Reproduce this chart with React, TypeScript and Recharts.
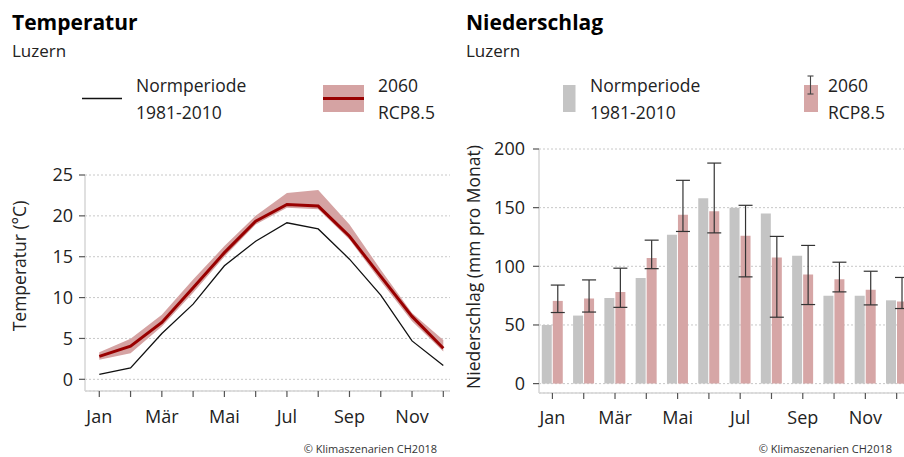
import React from "react";
import {
  ComposedChart,
  Line,
  Area,
  Bar,
  ErrorBar,
  XAxis,
  YAxis,
  CartesianGrid,
} from "recharts";

const months = [1, 2, 3, 4, 5, 6, 7, 8, 9, 10, 11, 12];
const tickLabels = ["Jan", "", "Mär", "", "Mai", "", "Jul", "", "Sep", "", "Nov", ""];

const tempNorm = [0.6, 1.4, 5.6, 9.2, 13.9, 16.9, 19.15, 18.4, 14.7, 10.3, 4.7, 1.7];
const tempFuture = [2.8, 4.05, 6.95, 11.2, 15.5, 19.35, 21.4, 21.2, 17.5, 12.6, 7.7, 3.8];
const tempLow = [2.4, 3.2, 6.45, 10.6, 15.0, 18.95, 21.0, 20.8, 17.1, 12.0, 7.1, 3.4];
const tempHigh = [3.3, 4.95, 7.9, 12.2, 16.3, 20.0, 22.8, 23.15, 18.95, 13.4, 8.1, 4.8];
const tempTicks = [0, 5, 10, 15, 20, 25];

const precipNorm = [50, 58, 73, 90, 127, 158, 150, 145, 109, 75, 75, 71];
const precipFuture = [70.5, 72.5, 78, 107, 144, 147, 126, 107.5, 93, 89, 80, 70];
const precipLow = [60.6, 61, 65, 98, 129.7, 128.5, 91, 56.6, 67.4, 78.2, 67.1, 64];
const precipHigh = [84, 88.4, 98.4, 122.3, 173.3, 188, 152, 125.5, 117.8, 103.5, 95.8, 90.5];
const precipTicks = [0, 50, 100, 150, 200];

const tempData = months.map((m, i) => ({
  m,
  norm: tempNorm[i],
  fut: tempFuture[i],
  band: [tempLow[i], tempHigh[i]],
}));

const precipData = months.map((m, i) => ({
  m,
  norm: precipNorm[i],
  fut: precipFuture[i],
  err: [precipFuture[i] - precipLow[i], precipHigh[i] - precipFuture[i]],
}));

const FONT = '"Open Sans", sans-serif';
const AXIS_GRAY = "#d6d6d6";
const TICK_COLOR = "#555";
const TEXT = "#222";
const RED_FILL = "#d5a3a3";
const DARK_RED = "#990000";
const BAR_GRAY = "#c4c4c4";
const BAR_RED = "#d6a6a6";

const fmt = (_v: number, i: number) => tickLabels[i] ?? "";

export default function App() {
  return (
    <div
      style={{
        position: "absolute",
        left: 0,
        top: 0,
        width: 904,
        height: 457,
        overflow: "hidden",
        background: "#fff",
        fontFamily: FONT,
      }}
    >
      <div style={{ position: "absolute", left: 0, top: 0 }}>
        <ComposedChart
          width={460}
          height={457}
          data={tempData}
          margin={{ top: 175, right: 10, bottom: 26, left: 0 }}
        >
          <CartesianGrid
            vertical={false}
            stroke="#c8c8c8"
            strokeDasharray="2 2"
          />
          <XAxis
            dataKey="m"
            type="number"
            domain={[0.543, 12.214]}
            ticks={months}
            interval={0}
            tickFormatter={fmt}
            height={40}
            axisLine={{ stroke: AXIS_GRAY, strokeWidth: 1.5 }}
            tickLine={{ stroke: TICK_COLOR, strokeWidth: 1.2 }}
            tickSize={6}
            tickMargin={13}
            tick={{ fill: TEXT, fontSize: 18 }}
          />
          <YAxis
            type="number"
            domain={[-1.43, 25]}
            ticks={tempTicks}
            interval={0}
            width={85}
            axisLine={{ stroke: AXIS_GRAY, strokeWidth: 1.5 }}
            tickLine={{ stroke: TICK_COLOR, strokeWidth: 1.2 }}
            tickSize={6}
            tickMargin={6}
            tick={{ fill: TEXT, fontSize: 18 }}
          />
          <Area
            dataKey="band"
            type="linear"
            fill={RED_FILL}
            fillOpacity={1}
            stroke="none"
            isAnimationActive={false}
            dot={false}
            activeDot={false}
          />
          <Line
            dataKey="norm"
            type="linear"
            stroke="#111"
            strokeWidth={1.3}
            dot={false}
            activeDot={false}
            isAnimationActive={false}
          />
          <Line
            dataKey="fut"
            type="linear"
            stroke={DARK_RED}
            strokeWidth={3}
            dot={false}
            activeDot={false}
            isAnimationActive={false}
          />
        </ComposedChart>
      </div>

      <div style={{ position: "absolute", left: 460, top: 0 }}>
        <ComposedChart
          width={460}
          height={457}
          data={precipData}
          barSize={10}
          barGap={1}
          margin={{ top: 149, right: 0, bottom: 24, left: 0 }}
        >
          <CartesianGrid
            vertical={false}
            stroke="#c8c8c8"
            strokeDasharray="2 2"
          />
          <XAxis
            dataKey="m"
            type="number"
            domain={[0.571, 12.746]}
            ticks={months}
            interval={0}
            tickFormatter={fmt}
            height={40}
            axisLine={{ stroke: AXIS_GRAY, strokeWidth: 1.5 }}
            tickLine={{ stroke: TICK_COLOR, strokeWidth: 1.2 }}
            tickSize={6}
            tickMargin={12}
            tick={{ fill: TEXT, fontSize: 18 }}
          />
          <YAxis
            type="number"
            domain={[-8, 200]}
            ticks={precipTicks}
            interval={0}
            width={79}
            axisLine={{ stroke: AXIS_GRAY, strokeWidth: 1.5 }}
            tickLine={{ stroke: TICK_COLOR, strokeWidth: 1.2 }}
            tickSize={6}
            tickMargin={8}
            tick={{ fill: TEXT, fontSize: 18 }}
          />
          <Bar dataKey="norm" fill={BAR_GRAY} isAnimationActive={false} />
          <Bar dataKey="fut" fill={BAR_RED} isAnimationActive={false}>
            <ErrorBar
              dataKey="err"
              width={7}
              stroke="#333"
              strokeWidth={1.2}
              direction="y"
            />
          </Bar>
        </ComposedChart>
      </div>

      <svg
        width={904}
        height={457}
        style={{ position: "absolute", left: 0, top: 0, pointerEvents: "none" }}
        fontFamily={FONT}
      >
        {/* Left titles */}
        <text x={12} y={30} fontSize={21} fontWeight={700} fill="#000">
          Temperatur
        </text>
        <text x={12} y={57} fontSize={17} fill={TEXT}>
          Luzern
        </text>
        {/* Left legend */}
        <line x1={82} y1={98.5} x2={122} y2={98.5} stroke="#111" strokeWidth={1.3} />
        <text x={136} y={92} fontSize={17.5} fill={TEXT}>Normperiode</text>
        <text x={136} y={119} fontSize={17.5} fill={TEXT}>1981-2010</text>
        <rect x={323} y={85} width={41} height={27} fill={RED_FILL} />
        <line x1={323} y1={98.5} x2={364} y2={98.5} stroke={DARK_RED} strokeWidth={3} />
        <text x={378} y={92} fontSize={17.5} fill={TEXT}>2060</text>
        <text x={378} y={119} fontSize={17.5} fill={TEXT}>RCP8.5</text>
        {/* Left axis title */}
        <text
          x={18.5}
          y={266}
          fontSize={17.5}
          fill={TEXT}
          textAnchor="middle"
          dominantBaseline="central"
          transform="rotate(-90 18.5 266)"
        >
          Temperatur (°C)
        </text>
        <text x={437} y={452.5} fontSize={11} fill="#333" textAnchor="end">
          © Klimaszenarien CH2018
        </text>

        {/* Right titles */}
        <text x={466} y={30} fontSize={21} fontWeight={700} fill="#000">
          Niederschlag
        </text>
        <text x={466} y={57} fontSize={17} fill={TEXT}>
          Luzern
        </text>
        {/* Right legend */}
        <rect x={563} y={85} width={12.5} height={27} fill={BAR_GRAY} />
        <text x={590} y={92} fontSize={17.5} fill={TEXT}>Normperiode</text>
        <text x={590} y={119} fontSize={17.5} fill={TEXT}>1981-2010</text>
        <rect x={804} y={85} width={14} height={27} fill={BAR_RED} />
        <line x1={810.5} y1={76} x2={810.5} y2={94} stroke="#444" strokeWidth={1.1} />
        <line x1={807.5} y1={76} x2={813.5} y2={76} stroke="#444" strokeWidth={1.1} />
        <line x1={807.5} y1={94} x2={813.5} y2={94} stroke="#444" strokeWidth={1.1} />
        <text x={828} y={92} fontSize={17.5} fill={TEXT}>2060</text>
        <text x={828} y={119} fontSize={17.5} fill={TEXT}>RCP8.5</text>
        {/* Right axis title */}
        <text
          x={473}
          y={267}
          fontSize={17.5}
          fill={TEXT}
          textAnchor="middle"
          dominantBaseline="central"
          transform="rotate(-90 473 267)"
        >
          Niederschlag (mm pro Monat)
        </text>
        <text x={892} y={452.5} fontSize={11} fill="#333" textAnchor="end">
          © Klimaszenarien CH2018
        </text>
      </svg>
    </div>
  );
}
